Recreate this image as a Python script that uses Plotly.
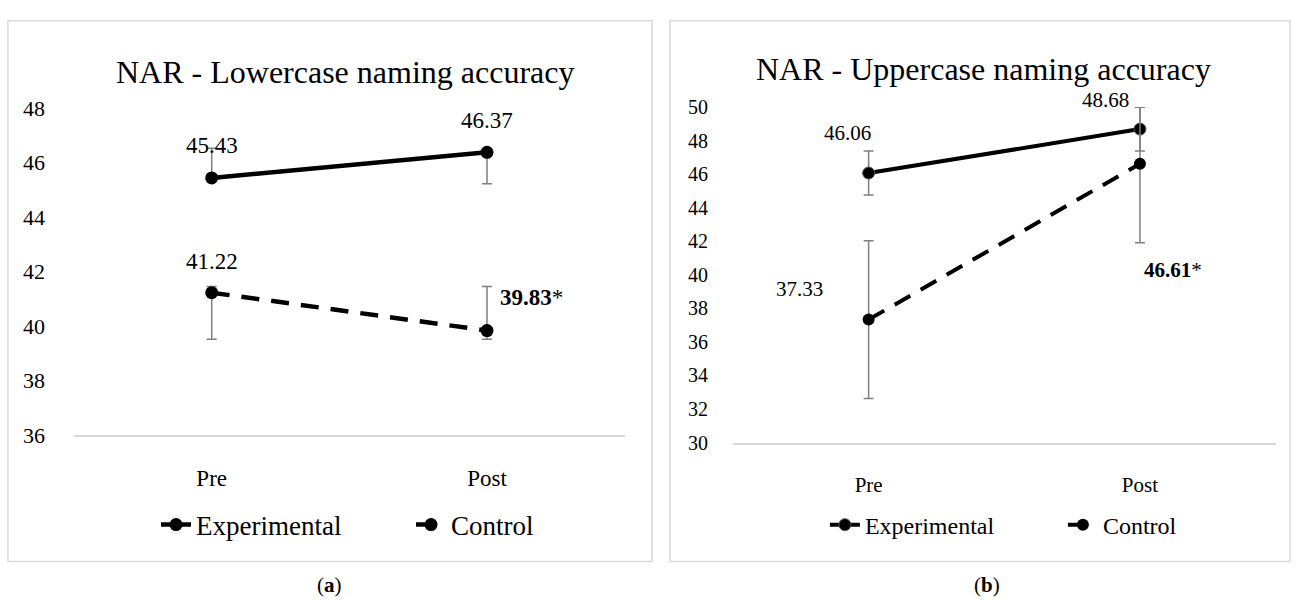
import plotly.graph_objects as go

W, H = 1301, 610

categories = ["Pre", "Post"]

# Panel (a): Lowercase naming accuracy
lower_exp = [45.43, 46.37]
lower_ctrl = [41.22, 39.83]
lower_exp_err_plus = [1.09, 0.13]
lower_exp_err_minus = [0.10, 1.15]
lower_ctrl_err_plus = [0.23, 1.62]
lower_ctrl_err_minus = [1.71, 0.32]
lower_ctrl_sig = [False, True]

# Panel (b): Uppercase naming accuracy
upper_exp = [46.06, 48.68]
upper_ctrl = [37.33, 46.61]
upper_exp_err = [1.31, 1.30]
upper_ctrl_err = [4.70, 4.70]
upper_ctrl_sig = [False, True]

series_names = ["Experimental", "Control"]
titles = ["NAR - Lowercase naming accuracy", "NAR - Uppercase naming accuracy"]
panel_letters = ["a", "b"]

FONT = "Liberation Serif"
ERR_COLOR = "#7f7f7f"


def px_x(p):
    return p / W


def px_y(p):
    return 1 - p / H


fig = go.Figure()

# --- Left panel traces
fig.add_trace(go.Scatter(
    x=categories, y=lower_exp, name=series_names[0], mode="lines+markers",
    line=dict(color="black", width=4.5), marker=dict(size=13, color="black"),
    error_y=dict(type="data", symmetric=False, array=lower_exp_err_plus,
                 arrayminus=lower_exp_err_minus, color=ERR_COLOR, thickness=1.5, width=5),
    xaxis="x", yaxis="y", legend="legend"))
fig.add_trace(go.Scatter(
    x=categories, y=lower_ctrl, name=series_names[1], mode="lines+markers",
    line=dict(color="black", width=4.5, dash="18px,12px"), marker=dict(size=13, color="black"),
    error_y=dict(type="data", symmetric=False, array=lower_ctrl_err_plus,
                 arrayminus=lower_ctrl_err_minus, color=ERR_COLOR, thickness=1.5, width=5),
    xaxis="x", yaxis="y", legend="legend"))

# --- Right panel traces
fig.add_trace(go.Scatter(
    x=categories, y=upper_exp, name=series_names[0], mode="lines+markers",
    line=dict(color="black", width=4), marker=dict(size=12, color="black",
                                                   line=dict(color="#555555", width=1)),
    error_y=dict(type="data", array=upper_exp_err, color=ERR_COLOR, thickness=1.5, width=5),
    xaxis="x2", yaxis="y2", legend="legend2"))
fig.add_trace(go.Scatter(
    x=categories, y=upper_ctrl, name=series_names[1], mode="lines+markers",
    line=dict(color="black", width=4, dash="18px,12px"), marker=dict(size=12, color="black"),
    error_y=dict(type="data", array=upper_ctrl_err, color=ERR_COLOR, thickness=1.5, width=5),
    xaxis="x2", yaxis="y2", legend="legend2"))

annotations = []

# Data labels panel (a)
lab_font_a = dict(family=FONT, size=23, color="black")
for i, v in enumerate(lower_exp):
    annotations.append(dict(x=categories[i], y=v, xref="x", yref="y", text=f"{v:.2f}",
                            showarrow=False, yshift=32, font=lab_font_a))
for i, v in enumerate(lower_ctrl):
    if lower_ctrl_sig[i]:
        annotations.append(dict(x=categories[i], y=v, xref="x", yref="y",
                                text=f"<b>{v:.2f}</b>*", showarrow=False,
                                xanchor="left", xshift=11, yshift=33, font=lab_font_a))
    else:
        annotations.append(dict(x=categories[i], y=v, xref="x", yref="y", text=f"{v:.2f}",
                                showarrow=False, yshift=31, font=lab_font_a))

# Data labels panel (b)
lab_font_b = dict(family=FONT, size=21, color="black")
exp_b_shifts = [(-21, 40), (-34, 29)]
for i, v in enumerate(upper_exp):
    dx, dy = exp_b_shifts[i]
    annotations.append(dict(x=categories[i], y=v, xref="x2", yref="y2", text=f"{v:.2f}",
                            showarrow=False, xshift=dx, yshift=dy, font=lab_font_b))
ctrl_b_shifts = [(-69, 31), (33, -106)]
for i, v in enumerate(upper_ctrl):
    dx, dy = ctrl_b_shifts[i]
    txt = f"<b>{v:.2f}</b>*" if upper_ctrl_sig[i] else f"{v:.2f}"
    annotations.append(dict(x=categories[i], y=v, xref="x2", yref="y2", text=txt,
                            showarrow=False, xshift=dx, yshift=dy, font=lab_font_b))

# Titles
annotations.append(dict(x=px_x(347), y=px_y(63), xref="paper", yref="paper", text=titles[0],
                        xanchor="center", yanchor="middle",
                        showarrow=False, font=dict(family=FONT, size=32, color="black")))
annotations.append(dict(x=px_x(990), y=px_y(59), xref="paper", yref="paper", text=titles[1],
                        xanchor="center", yanchor="middle",
                        showarrow=False, font=dict(family=FONT, size=32, color="black")))

# Panel captions
annotations.append(dict(x=px_x(332), y=px_y(597), xref="paper", yref="paper",
                        xanchor="center", yanchor="middle",
                        text=f"(<b>{panel_letters[0]}</b>)", showarrow=False,
                        font=dict(family=FONT, size=21, color="black")))
annotations.append(dict(x=px_x(993), y=px_y(597), xref="paper", yref="paper",
                        xanchor="center", yanchor="middle",
                        text=f"(<b>{panel_letters[1]}</b>)", showarrow=False,
                        font=dict(family=FONT, size=21, color="black")))

shapes = [
    dict(type="rect", xref="paper", yref="paper", x0=px_x(8), x1=px_x(656),
         y0=px_y(573), y1=px_y(9), line=dict(color="#d9d9d9", width=1.5)),
    dict(type="rect", xref="paper", yref="paper", x0=px_x(674), x1=px_x(1298),
         y0=px_y(573), y1=px_y(9), line=dict(color="#d9d9d9", width=1.5)),
]

xaxis_common = dict(type="category", categoryorder="array", categoryarray=categories,
                    range=[-0.5, 1.5], showgrid=False, zeroline=False, showline=True,
                    linecolor="#d9d9d9", linewidth=1.5, ticks="", fixedrange=True,
                    ticklabelstandoff=22)

fig.update_layout(
    width=W, height=H,
    margin=dict(l=0, r=0, t=0, b=0),
    paper_bgcolor="white", plot_bgcolor="white",
    font=dict(family=FONT, color="black"),
    xaxis=dict(domain=[px_x(74.5), px_x(628.5)], anchor="y",
               tickfont=dict(family=FONT, size=23), **xaxis_common),
    yaxis=dict(domain=[px_y(441), px_y(100)], anchor="x", range=[36, 48], dtick=2,
               showgrid=False, zeroline=False, showline=False, ticks="", fixedrange=True,
               tickfont=dict(family=FONT, size=22), ticklabelstandoff=28),
    xaxis2=dict(domain=[px_x(737.5), px_x(1283.5)], anchor="y2",
                tickfont=dict(family=FONT, size=21), **xaxis_common),
    yaxis2=dict(domain=[px_y(449), px_y(99)], anchor="x2", range=[30, 50], dtick=2,
                showgrid=False, zeroline=False, showline=False, ticks="", fixedrange=True,
                tickfont=dict(family=FONT, size=20), ticklabelstandoff=24),
    legend=dict(orientation="h", x=px_x(157), y=px_y(535), xanchor="left", yanchor="middle",
                font=dict(family=FONT, size=27), bgcolor="rgba(0,0,0,0)",
                entrywidth=210, entrywidthmode="pixels"),
    legend2=dict(orientation="h", x=px_x(830), y=px_y(535), xanchor="left", yanchor="middle",
                 font=dict(family=FONT, size=24), bgcolor="rgba(0,0,0,0)",
                 entrywidth=193, entrywidthmode="pixels"),
    annotations=annotations,
    shapes=shapes,
    showlegend=True,
)

fig.write_html(
    "out.html",
    config={"displayModeBar": False},
    post_script="document.documentElement.style.margin='0';document.body.style.margin='0';"
                "document.documentElement.style.overflow='hidden';document.body.style.overflow='hidden';",
)
